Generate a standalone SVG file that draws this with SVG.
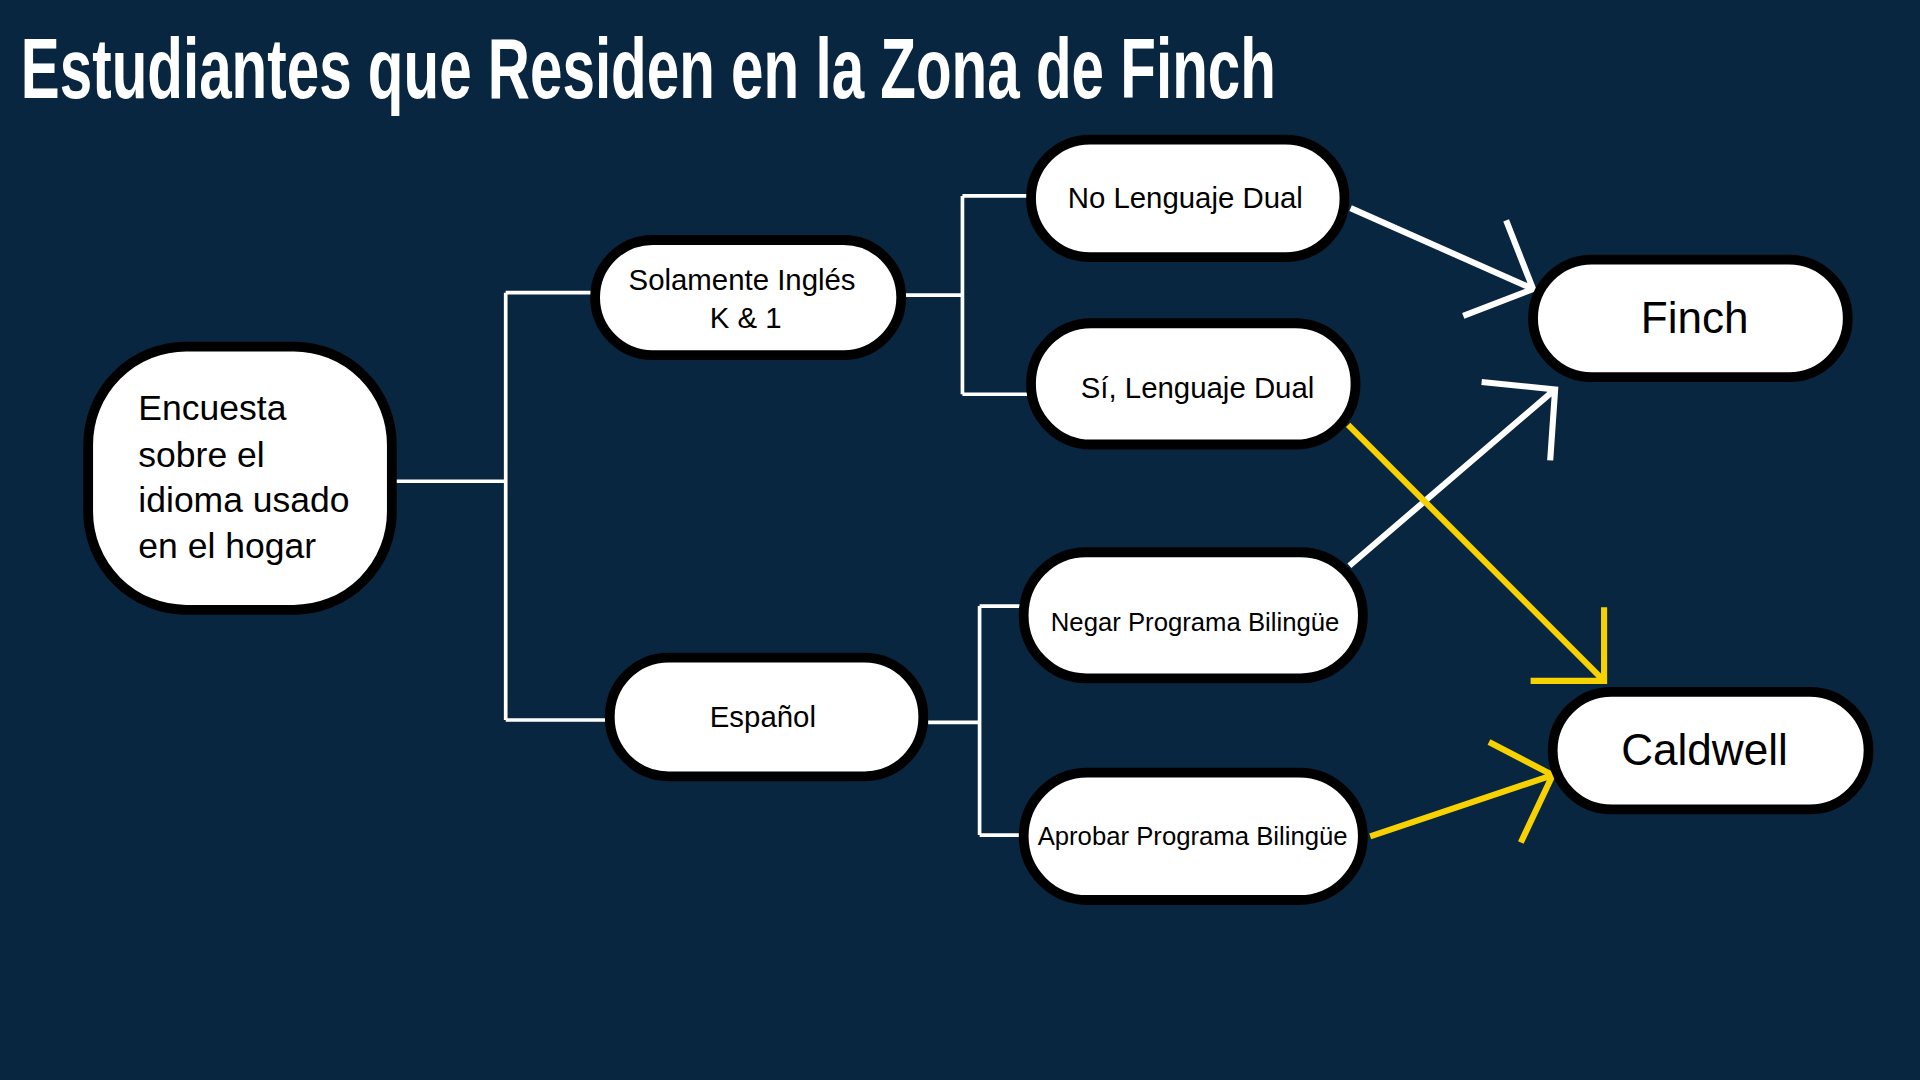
<svg xmlns="http://www.w3.org/2000/svg" width="1920" height="1080" viewBox="0 0 1920 1080">
<style>
.n{fill:#fff;stroke:#000;stroke-width:8}
.t{font-family:"Liberation Sans",Arial,sans-serif;fill:#000;text-anchor:middle}
.c{fill:none;stroke:#fff;stroke-width:3}
.w{fill:none;stroke:#fff;stroke-width:5}
.y{fill:none;stroke:#f7d200;stroke-width:5}
</style>
<rect width="1920" height="1080" fill="#08263f"/>
<g transform="scale(1.22449)">
<text x="17" y="80" font-family="Liberation Sans,Arial,sans-serif" font-weight="bold" font-size="70" fill="#fff" textLength="1025" lengthAdjust="spacingAndGlyphs">Estudiantes que Residen en la Zona de Finch</text>
<g id="connectors">
<path class="c" d="M320 393H413M413 239V588M413 239H490M413 588H500"/>
<path class="c" d="M736 241H786M786 160V322M786 160H846M786 322H848"/>
<path class="c" d="M758 590H800M800 495V682M800 495H840M800 682H838"/>
<path class="w" d="M1103 170L1252 236M1230 180L1252 236L1195 258"/>
<path class="w" d="M1102 462L1270 318M1210 312L1270 318L1266 376"/>
<path class="y" d="M1101 347L1310 556M1310 496V556H1250"/>
<path class="y" d="M1119 683L1268 633M1216 606L1268 633L1242 688"/>
</g>
<g id="encuesta"><rect class="n" x="72" y="283" width="248" height="215" rx="80"/>
<text font-family="Liberation Sans,Arial,sans-serif" font-size="29" x="113"><tspan y="343">Encuesta</tspan><tspan x="113" y="381">sobre el</tspan><tspan x="113" y="418">idioma usado</tspan><tspan x="113" y="456">en el hogar</tspan></text></g>
<g id="solamente"><rect class="n" x="486" y="196" width="250" height="94" rx="47"/>
<text class="t" font-size="24" x="606" y="237">Solamente Inglés</text><text class="t" font-size="24" x="609" y="268">K &amp; 1</text></g>
<g id="espanol"><rect class="n" x="498" y="537" width="256" height="97" rx="48"/>
<text class="t" font-size="24" x="623" y="594">Español</text></g>
<g id="nodual"><rect class="n" x="842" y="114" width="256" height="96" rx="48"/>
<text class="t" font-size="24" x="968" y="170">No Lenguaje Dual</text></g>
<g id="sidual"><rect class="n" x="842" y="264" width="265" height="99" rx="49"/>
<text class="t" font-size="24" x="978" y="325">Sí, Lenguaje Dual</text></g>
<g id="negar"><rect class="n" x="836" y="451" width="277" height="103" rx="51"/>
<text class="t" font-size="21" x="976" y="515">Negar Programa Bilingüe</text></g>
<g id="aprobar"><rect class="n" x="836" y="631" width="277" height="104" rx="52"/>
<text class="t" font-size="21" x="974" y="690">Aprobar Programa Bilingüe</text></g>
<g id="finch"><rect class="n" x="1252" y="212" width="257" height="96" rx="48"/>
<text class="t" font-size="36" x="1384" y="272">Finch</text></g>
<g id="caldwell"><rect class="n" x="1268" y="565" width="258" height="96" rx="48"/>
<text class="t" font-size="36" x="1392" y="625">Caldwell</text></g>
</g>
</svg>
